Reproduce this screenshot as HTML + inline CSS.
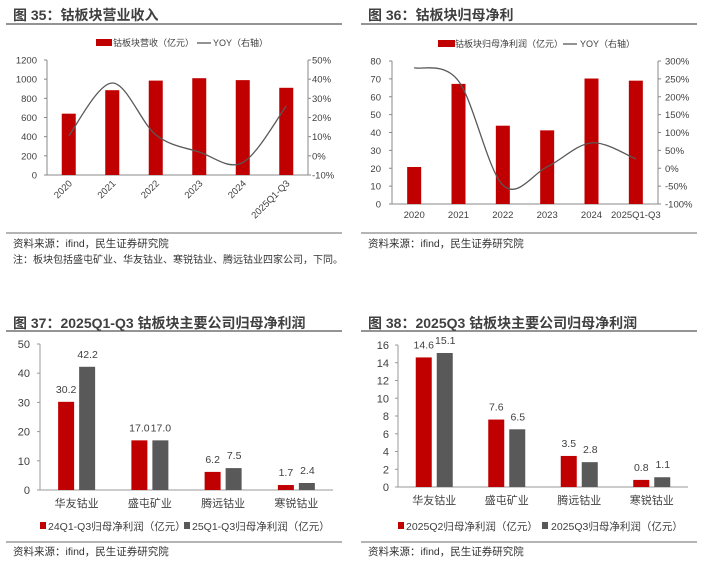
<!DOCTYPE html>
<html><head><meta charset="utf-8"><style>
html,body{margin:0;padding:0;background:#fff;}
svg{display:block;font-family:"Liberation Sans","Noto Sans CJK SC",sans-serif;}
</style></head><body>
<svg id="s" width="710" height="566" viewBox="0 0 710 566"></svg>
<script>
// Chart 35 data
const c35Cats = ["2020","2021","2022","2023","2024","2025Q1-Q3"];
const c35Rev = [640, 885, 985, 1010, 990, 910];
const c35Yoy = [10.5, 38, 11, 2, -3.5, 26];
const c35LeftTicks = [0,200,400,600,800,1000,1200];
const c35RightTicks = [-10,0,10,20,30,40,50];
// Chart 36 data
const c36Cats = ["2020","2021","2022","2023","2024","2025Q1-Q3"];
const c36Profit = [20.7, 67.2, 43.8, 41.2, 70.2, 69.0];
const c36Yoy = [281, 244, -47, 4, 71, 26];
const c36LeftTicks = [0,10,20,30,40,50,60,70,80];
const c36RightTicks = [-100,-50,0,50,100,150,200,250,300];
// Chart 37 data
const c37Cats = ["华友钴业","盛屯矿业","腾远钴业","寒锐钴业"];
const c37S1 = [30.2, 17.0, 6.2, 1.7];
const c37S2 = [42.2, 17.0, 7.5, 2.4];
const c37Ticks = [0,10,20,30,40,50];
// Chart 38 data
const c38Cats = ["华友钴业","盛屯矿业","腾远钴业","寒锐钴业"];
const c38S1 = [14.6, 7.6, 3.5, 0.8];
const c38S2 = [15.1, 6.5, 2.8, 1.1];
const c38Ticks = [0,2,4,6,8,10,12,14,16];

const RED="#C00000", GRAY="#595959", TXT="#404040";
const svg=document.getElementById('s');
const NS="http://www.w3.org/2000/svg";
function mk(tag,attrs,text){const e=document.createElementNS(NS,tag);for(const k in attrs)e.setAttribute(k,attrs[k]);if(text!==undefined)e.textContent=text;svg.appendChild(e);return e;}
function txt(x,y,s,size,anchor,fill,weight){return mk('text',{x:x,y:y,'font-size':size,'text-anchor':anchor||'start',fill:fill||TXT,'font-weight':weight||'normal'},s);}
function line(x1,y1,x2,y2,c,w){return mk('line',{x1:x1,y1:y1,x2:x2,y2:y2,stroke:c,'stroke-width':w||1});}
function smooth(pts){let d="M"+pts[0][0]+","+pts[0][1];for(let i=0;i<pts.length-1;i++){const p0=pts[Math.max(0,i-1)],p1=pts[i],p2=pts[i+1],p3=pts[Math.min(pts.length-1,i+2)];const t=1/6;d+=" C"+(p1[0]+(p2[0]-p0[0])*t)+","+(p1[1]+(p2[1]-p0[1])*t)+" "+(p2[0]-(p3[0]-p1[0])*t)+","+(p2[1]-(p3[1]-p1[1])*t)+" "+p2[0]+","+p2[1];}return d;}

let e;
e=txt(13,20,"图 35：钴板块营业收入",14,'start',"#404040",'bold');


e=txt(368,20,"图 36：钴板块归母净利",14,'start',"#404040",'bold');


e=txt(13,328,"图 37：2025Q1-Q3 钴板块主要公司归母净利润",14,'start',"#404040",'bold');


e=txt(368,328,"图 38：2025Q3 钴板块主要公司归母净利润",14,'start',"#404040",'bold');


[[6,24,342],[361,24,697],[6,331,342],[361,331,697]].forEach(a=>{const l=line(a[0],a[1],a[2],a[1],"#555",1.3);});
[[6,233,342],[361,233,697],[6,542,342],[361,542,697]].forEach(a=>{const l=line(a[0],a[1],a[2],a[1],"#888",1.3);});
[[13,247],[368,247],[13,555],[368,555]].forEach(a=>{const t=txt(a[0],a[1],"资料来源：ifind，民生证券研究院",10.5,'start',"#333");});
e=txt(13,263,"注：板块包括盛屯矿业、华友钴业、寒锐钴业、腾远钴业四家公司，下同。",10,'start',"#333");



function combo(o){
  const {x0,x1,yTop,yBot,lMin,lMax,rMin,rMax,cats,bars,yoy,lt,rt,rotate,pref,lx,rx}=o;
  const yL=v=>yBot-(v-lMin)/(lMax-lMin)*(yBot-yTop);
  const yR=v=>yBot-(v-rMin)/(rMax-rMin)*(yBot-yTop);
  const band=(x1-x0)/cats.length;
  const xc=i=>x0+band*(i+0.5);
  lt.forEach(v=>{const t=txt(lx,yL(v)+3.5,String(v),9.5,'end');});
  rt.forEach(v=>{const t=txt(rx,yR(v)+3.5,v+"%",9.5,'start');});
  let a=line(x0,yTop,x0,yBot,"#888");
  a=line(x1,yTop,x1,yBot,"#888");
  a=line(x0,yBot,x1,yBot,"#888");
  lt.forEach(v=>{const l=line(x0-3,yL(v),x0,yL(v),"#888");});
  rt.forEach(v=>{const l=line(x1,yR(v),x1+3,yR(v),"#888");});
  bars.forEach((v,i)=>{const r=mk('rect',{x:xc(i)-7,y:yL(v),width:14,height:yBot-yL(v),fill:RED});
    
    });
  const p=mk('path',{d:smooth(yoy.map((v,i)=>[xc(i),yR(v)])),fill:'none',stroke:GRAY,'stroke-width':1.3});
  
  
  cats.forEach((c,i)=>{let t;
    if(rotate){t=txt(0,0,c,9.5,'end');t.setAttribute('transform','translate('+(xc(i)+4)+','+(yBot+9)+') rotate(-45)');}
    else t=txt(xc(i),yBot+14,c,9.5,'middle');
    
    });
}
combo({x0:47,x1:308,yTop:60,yBot:175,lMin:0,lMax:1200,rMin:-10,rMax:50,cats:c35Cats,bars:c35Rev,yoy:c35Yoy,lt:c35LeftTicks,rt:c35RightTicks,rotate:true,pref:'c35',lx:37,rx:312});
combo({x0:392,x1:658,yTop:61,yBot:204,lMin:0,lMax:80,rMin:-100,rMax:300,cats:c36Cats,bars:c36Profit,yoy:c36Yoy,lt:c36LeftTicks,rt:c36RightTicks,rotate:false,pref:'c36',lx:381,rx:665});

e=mk('rect',{x:96,y:39,width:16,height:7,fill:RED});


e=txt(113,46,"钴板块营收（亿元）",9,'start');


e=line(197,43,211,43,GRAY,1.3);


e=txt(213,46,"YOY（右轴）",9,'start');


e=mk('rect',{x:438,y:40,width:17,height:7,fill:RED});


e=txt(455,47,"钴板块归母净利润（亿元）",9,'start');


e=line(563,44,577,44,GRAY,1.3);


e=txt(580,47,"YOY（右轴）",9,'start');



function grouped(o){
  const {x0,x1,yTop,yBot,max,cats,s1,s2,ticks,pref,lx}=o;
  const y=v=>yBot-v/max*(yBot-yTop);
  const band=(x1-x0)/cats.length;
  const xc=i=>x0+band*(i+0.5);
  ticks.forEach(v=>{const t=txt(lx,y(v)+4,String(v),11,'end');
    const l=line(x0-3,y(v),x0,y(v),"#999");});
  let a=line(x0,yTop,x0,yBot,"#999");
  a=line(x0,yBot,x1,yBot,"#999");
  cats.forEach((c,i)=>{
    const r1=mk('rect',{x:xc(i)-18.5,y:y(s1[i]),width:16,height:yBot-y(s1[i]),fill:RED});
    
    
    const r2=mk('rect',{x:xc(i)+2.5,y:y(s2[i]),width:16,height:yBot-y(s2[i]),fill:GRAY});
    
    
    let t=txt(xc(i)-10.5,y(s1[i])-9,s1[i].toFixed(1),10.5,'middle');
    
    
    t=txt(xc(i)+11,y(s2[i])-9,s2[i].toFixed(1),10.5,'middle');
    
    
    t=txt(xc(i),yBot+17,c,11,'middle');
    
    
  });
}
grouped({x0:40,x1:333,yTop:344,yBot:490,max:50,cats:c37Cats,s1:c37S1,s2:c37S2,ticks:c37Ticks,pref:'c37',lx:30});
grouped({x0:398,x1:688,yTop:345,yBot:487,max:16,cats:c38Cats,s1:c38S1,s2:c38S2,ticks:c38Ticks,pref:'c38',lx:389});

e=mk('rect',{x:40,y:522,width:6,height:7,fill:RED});


e=txt(48,530,"24Q1-Q3归母净利润（亿元）",10.5,'start');


e=mk('rect',{x:184,y:522,width:6,height:7,fill:GRAY});


e=txt(192,530,"25Q1-Q3归母净利润（亿元）",10.5,'start');


e=mk('rect',{x:398,y:522,width:6,height:7,fill:RED});


e=txt(406,530,"2025Q2归母净利润（亿元）",10.5,'start');


e=mk('rect',{x:542,y:522,width:6,height:7,fill:GRAY});


e=txt(551,530,"2025Q3归母净利润（亿元）",10.5,'start');


</script>
</body></html>
